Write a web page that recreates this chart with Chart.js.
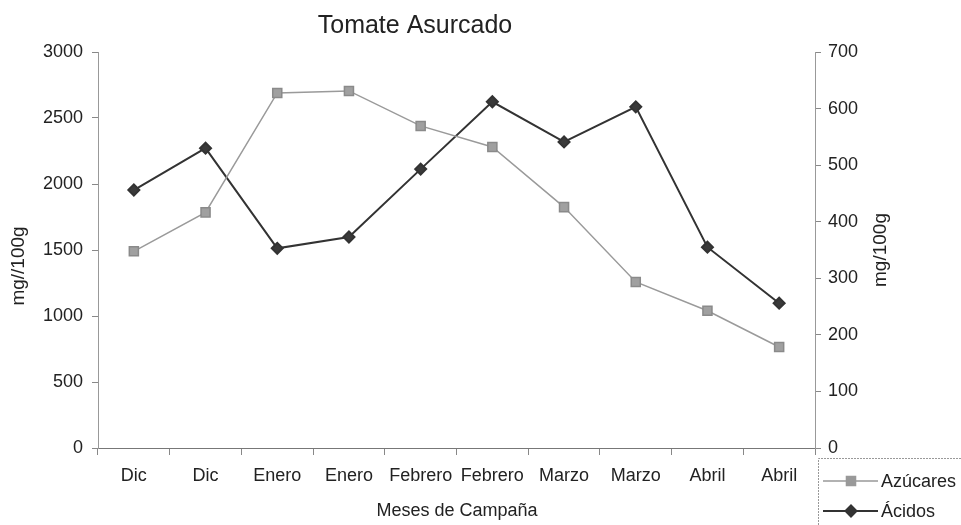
<!DOCTYPE html>
<html>
<head>
<meta charset="utf-8">
<script src="https://cdn.jsdelivr.net/npm/chart.js@4/dist/chart.umd.min.js"></script>
<style>
  html, body { margin: 0; padding: 0; background: #fff; }
  #wrap { width: 961px; height: 525px; position: relative; }
</style>
</head>
<body>
<div id="wrap"><canvas id="chart"></canvas></div>
<script>
const meses = ['Dic', 'Dic', 'Enero', 'Enero', 'Febrero', 'Febrero', 'Marzo', 'Marzo', 'Abril', 'Abril'];
const azucares = [1490, 1785, 2690, 2705, 2440, 2280, 1825, 1258, 1040, 765];
const acidos = [456, 530, 353, 373, 493, 612, 541, 603, 355, 256];

const FONT = '"Liberation Sans", Arial, sans-serif';

// titles and legend drawn by hand so they sit where the original has them
const extras = {
  id: 'extras',
  afterDraw(chart) {
    const ctx = chart.ctx;
    ctx.save();
    ctx.fillStyle = '#222';
    ctx.textAlign = 'center';
    ctx.textBaseline = 'middle';

    ctx.font = '25px ' + FONT;
    ctx.fillText('Tomate Asurcado', 415, 26);

    ctx.font = '18px ' + FONT;
    ctx.fillText('Meses de Campaña', 457, 511);

    ctx.save();
    ctx.translate(19, 266);
    ctx.rotate(-Math.PI / 2);
    ctx.font = '19px ' + FONT;
    ctx.fillText('mg//100g', 0, 0);
    ctx.restore();

    ctx.save();
    ctx.translate(881, 250);
    ctx.rotate(-Math.PI / 2);
    ctx.font = '19px ' + FONT;
    ctx.fillText('mg/100g', 0, 0);
    ctx.restore();

    // legend box
    ctx.strokeStyle = '#999';
    ctx.lineWidth = 1;
    ctx.setLineDash([2, 1]);
    ctx.beginPath();
    ctx.moveTo(818.5, 525);
    ctx.lineTo(818.5, 458.5);
    ctx.lineTo(961, 458.5);
    ctx.stroke();
    ctx.setLineDash([]);

    const items = [
      { label: 'Azúcares', y: 481, color: '#999', width: 1.5, style: 'rect' },
      { label: 'Ácidos', y: 511, color: '#333', width: 2, style: 'rectRot' }
    ];
    ctx.textAlign = 'left';
    ctx.font = '18px ' + FONT;
    items.forEach(it => {
      ctx.strokeStyle = it.color;
      ctx.lineWidth = it.width;
      ctx.beginPath();
      ctx.moveTo(823, it.y);
      ctx.lineTo(878, it.y);
      ctx.stroke();
      Chart.helpers.drawPoint(ctx, {
        pointStyle: it.style,
        radius: it.style === 'rect' ? 6.4 : 5.5,
        borderWidth: 1
      }, 851, it.y);
      ctx.fillStyle = it.color;
      ctx.fill();
      ctx.fillStyle = '#222';
      ctx.fillText(it.label, 881, it.y + 1);
    });
    ctx.restore();
  }
};

new Chart(document.getElementById('chart'), {
  type: 'line',
  data: {
    labels: meses,
    datasets: [
      {
        label: 'Azúcares',
        data: azucares,
        yAxisID: 'y',
        borderColor: '#9a9a9a',
        borderWidth: 1.5,
        backgroundColor: '#9a9a9a',
        pointBackgroundColor: '#a0a0a0',
        pointBorderColor: '#8a8a8a',
        pointStyle: 'rect',
        pointRadius: 6.4,
        pointHoverRadius: 6.4,
        tension: 0
      },
      {
        label: 'Ácidos',
        data: acidos,
        yAxisID: 'y1',
        borderColor: '#333',
        borderWidth: 2,
        backgroundColor: '#333',
        pointBackgroundColor: '#3a3a3a',
        pointBorderColor: '#333',
        pointStyle: 'rectRot',
        pointRadius: 5.5,
        pointHoverRadius: 5.5,
        tension: 0
      }
    ]
  },
  options: {
    responsive: true,
    maintainAspectRatio: false,
    animation: false,
    layout: { padding: { top: 52, left: 0, right: 0, bottom: 0 } },
    plugins: {
      legend: { display: false },
      title: { display: false },
      tooltip: { enabled: false }
    },
    scales: {
      x: {
        offset: true,
        afterFit: s => { s.height = 77; },
        grid: { offset: true, drawOnChartArea: false, tickLength: 7, color: '#888' },
        border: { color: '#777' },
        ticks: { color: '#222', font: { family: FONT, size: 18 }, padding: 10, maxRotation: 0, autoSkip: false }
      },
      y: {
        position: 'left',
        min: 0,
        max: 3000,
        afterFit: s => { s.width = 98; },
        grid: { drawOnChartArea: false, tickLength: 6, color: '#888' },
        border: { color: '#999', dash: [2, 1] },
        ticks: { stepSize: 500, color: '#222', font: { family: FONT, size: 18 }, padding: 9, callback: v => String(v) }
      },
      y1: {
        position: 'right',
        min: 0,
        max: 700,
        afterFit: s => { s.width = 146; },
        grid: { drawOnChartArea: false, tickLength: 6, color: '#888' },
        border: { color: '#999', dash: [2, 1] },
        ticks: { stepSize: 100, color: '#222', font: { family: FONT, size: 18 }, padding: 7, callback: v => String(v) }
      }
    }
  },
  plugins: [extras]
});
</script>
</body>
</html>
